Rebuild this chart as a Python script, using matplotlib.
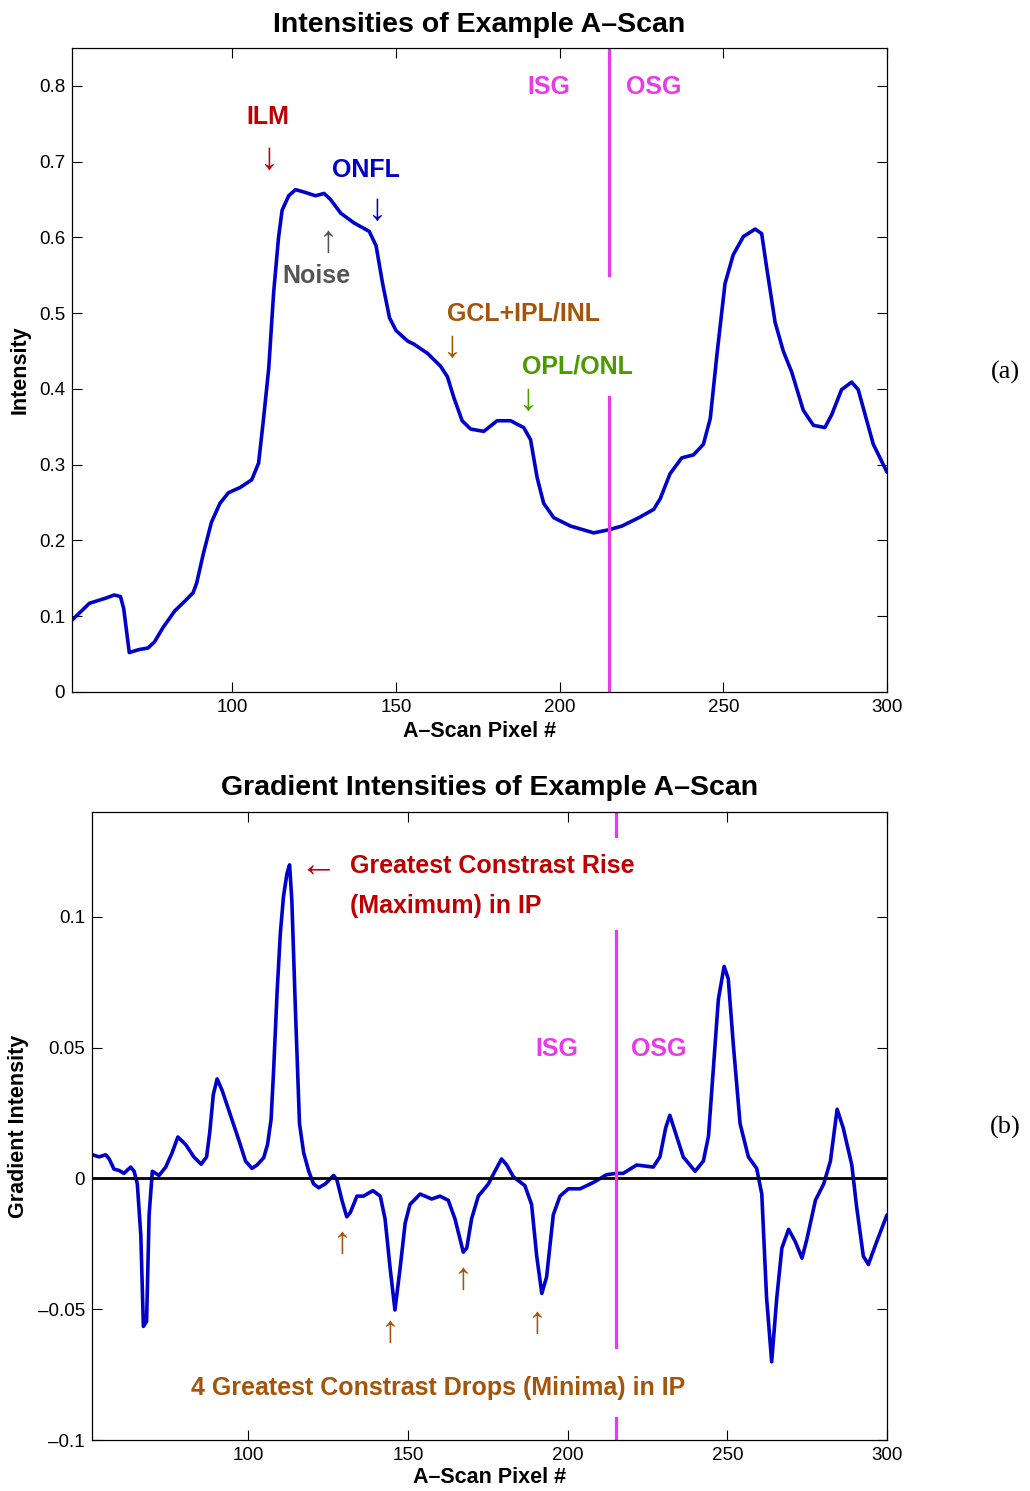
import matplotlib
matplotlib.use('agg')
import matplotlib.pyplot as plt
from matplotlib.ticker import FixedLocator, FuncFormatter

plt.rcParams['font.family'] = ['Liberation Sans', 'DejaVu Sans']

# intensity of the A-scan
pix_a = [50.6, 56.3, 61.4, 63.9, 65.8, 66.8, 68.5, 71.5, 74.2, 76.2, 78.8, 82.4, 85.5, 88.0,
         89.1, 91.1, 93.6, 96.2, 98.8, 102.4, 105.9, 108.0, 109.5, 111.1, 112.6, 114.1, 115.2,
         117.2, 119.3, 121.8, 125.4, 128.0, 130.0, 133.1, 137.2, 141.8, 143.9, 145.9, 148.0,
         150.0, 153.6, 155.5, 159.6, 163.6, 165.7, 167.7, 170.2, 172.8, 176.8, 180.9, 185.0,
         189.0, 191.1, 193.1, 195.1, 198.2, 203.3, 210.4, 214.9, 219.0, 224.6, 228.7, 230.7,
         233.7, 237.3, 240.9, 243.9, 246.0, 248.0, 250.5, 253.0, 256.1, 259.7, 261.7, 263.2,
         265.8, 268.3, 270.9, 274.4, 277.5, 281.0, 283.1, 286.1, 289.2, 291.2, 295.8, 300.0]
intensity = [0.093, 0.117, 0.124, 0.128, 0.126, 0.110, 0.052, 0.056, 0.058, 0.066, 0.085, 0.107,
             0.120, 0.131, 0.144, 0.182, 0.224, 0.249, 0.263, 0.270, 0.280, 0.302, 0.360, 0.427,
             0.527, 0.600, 0.636, 0.655, 0.663, 0.660, 0.655, 0.658, 0.650, 0.632, 0.619, 0.608,
             0.589, 0.539, 0.494, 0.477, 0.463, 0.459, 0.447, 0.430, 0.416, 0.388, 0.358, 0.347,
             0.344, 0.358, 0.358, 0.349, 0.333, 0.283, 0.249, 0.230, 0.219, 0.210, 0.214, 0.219,
             0.231, 0.241, 0.255, 0.288, 0.309, 0.313, 0.327, 0.361, 0.444, 0.539, 0.577, 0.601,
             0.611, 0.605, 0.561, 0.488, 0.450, 0.422, 0.372, 0.352, 0.349, 0.366, 0.399, 0.409,
             0.399, 0.327, 0.290]

# gradient of the intensity
pix_b = [51.2, 53.2, 55.3, 56.4, 57.9, 59.5, 61.0, 63.1, 64.2, 65.2, 66.3, 67.1, 68.1, 68.9,
         69.9, 72.0, 74.1, 76.1, 77.9, 80.3, 82.9, 85.2, 86.9, 87.9, 89.0, 90.2, 91.8, 94.4,
         97.0, 99.1, 101.1, 102.7, 104.8, 106.0, 107.1, 107.9, 109.0, 110.0, 111.0, 112.1,
         112.9, 113.6, 114.7, 116.0, 117.3, 118.9, 120.4, 122.0, 124.1, 126.7, 127.7, 129.3,
         130.8, 131.9, 134.0, 136.0, 139.0, 141.3, 142.8, 144.4, 145.9, 147.5, 149.1, 150.6,
         153.8, 157.4, 160.0, 162.6, 164.7, 167.3, 168.4, 169.9, 172.0, 175.2, 177.2, 179.3,
         180.9, 183.0, 186.6, 188.7, 190.3, 191.9, 193.4, 195.5, 197.6, 200.2, 203.9, 208.0,
         212.2, 215.3, 217.4, 221.6, 226.8, 228.9, 230.7, 232.0, 234.1, 236.2, 239.9, 242.5,
         244.1, 245.6, 247.2, 249.0, 250.3, 251.9, 254.0, 256.6, 259.2, 260.8, 262.3, 263.9,
         265.5, 267.1, 269.2, 271.3, 273.4, 274.9, 277.6, 280.2, 282.3, 284.4, 286.3, 289.0,
         290.5, 292.6, 294.2, 296.8, 300.0]
gradient = [0.0090, 0.0082, 0.0090, 0.0074, 0.0035, 0.0030, 0.0019, 0.0043, 0.0027, -0.0021,
            -0.0218, -0.0566, -0.0547, -0.0139, 0.0027, 0.0011, 0.0043, 0.0098, 0.0158, 0.0130,
            0.0082, 0.0054, 0.0082, 0.0177, 0.0320, 0.0380, 0.0335, 0.0240, 0.0146, 0.0066,
            0.0038, 0.0051, 0.0079, 0.0130, 0.0225, 0.0415, 0.0715, 0.0937, 0.1079, 0.1166,
            0.1198, 0.1063, 0.0652, 0.0209, 0.0098, 0.0027, -0.0021, -0.0036, -0.0021, 0.0011,
            -0.0005, -0.0084, -0.0147, -0.0131, -0.0068, -0.0068, -0.0047, -0.0068, -0.0155,
            -0.0345, -0.0503, -0.0345, -0.0171, -0.0100, -0.0060, -0.0079, -0.0068, -0.0084,
            -0.0155, -0.0282, -0.0266, -0.0155, -0.0068, -0.0021, 0.0027, 0.0074, 0.0051, 0.0006,
            -0.0028, -0.0100, -0.0297, -0.0440, -0.0377, -0.0139, -0.0068, -0.0040, -0.0040,
            -0.0016, 0.0014, 0.0019, 0.0019, 0.0051, 0.0043, 0.0082, 0.0193, 0.0241, 0.0161,
            0.0082, 0.0027, 0.0066, 0.0161, 0.0415, 0.0684, 0.0810, 0.0763, 0.0509, 0.0209,
            0.0082, 0.0038, -0.0060, -0.0456, -0.0701, -0.0456, -0.0266, -0.0195, -0.0242,
            -0.0305, -0.0234, -0.0084, -0.0021, 0.0066, 0.0264, 0.0193, 0.0051, -0.0108, -0.0297,
            -0.0329, -0.0242, -0.0140]

isg_osg = 215
xticks = [100, 150, 200, 250, 300]
yticks_a = [0, 0.1, 0.2, 0.3, 0.4, 0.5, 0.6, 0.7, 0.8]
yticks_b = [-0.1, -0.05, 0, 0.05, 0.1]

blue = '#0000CC'
magenta = '#E83AE8'
red = '#C00000'
brown = '#A5540A'
green = '#4C9A00'
grey = '#555555'


def fmt(v, pos):
    return ('%g' % v).replace('-', '\u2013')


def style(ax):
    ax.tick_params(axis='both', which='major', direction='in', top=True, right=True,
                   length=7, width=0.8, labelsize=13.5, pad=5)
    ax.xaxis.set_major_locator(FixedLocator(xticks))
    ax.yaxis.set_major_formatter(FuncFormatter(fmt))
    for s in ax.spines.values():
        s.set_linewidth(0.9)


fig = plt.figure(figsize=(10.30, 14.91), dpi=100)
line_kw = dict(color=blue, linewidth=2.6, solid_joinstyle='round', solid_capstyle='round')

# ---- (a) intensities
ax1 = fig.add_axes([0.0699, 0.5359, 0.7913, 0.4319])
ax1.plot(pix_a, intensity, **line_kw)
ax1.plot([isg_osg, isg_osg], [0.55, 0.85], color=magenta, linewidth=2.3)
ax1.plot([isg_osg, isg_osg], [0, 0.389], color=magenta, linewidth=2.3)
ax1.set_xlim(51, 300)
ax1.set_ylim(0, 0.85)
ax1.yaxis.set_major_locator(FixedLocator(yticks_a))
style(ax1)
ax1.set_title('Intensities of Example A\u2013Scan', fontsize=20.5, fontweight='bold', pad=11.5)
ax1.set_xlabel('A\u2013Scan Pixel #', fontsize=15.5, fontweight='bold', labelpad=4)
ax1.set_ylabel('Intensity', fontsize=15.5, fontweight='bold', labelpad=6)

bold = dict(fontsize=18, fontweight='bold', ha='center', va='center')
arr = dict(fontsize=27, ha='center', va='center')
ax1.text(110.7, 0.759, 'ILM', color=red, **bold)
ax1.text(111.3, 0.704, '\u2193', color=red, **arr)
ax1.text(140.7, 0.689, 'ONFL', color=blue, **bold)
ax1.text(144.3, 0.636, '\u2193', color=blue, **arr)
ax1.text(129.4, 0.594, '\u2191', color=grey, **arr)
ax1.text(125.7, 0.549, 'Noise', color=grey, **bold)
ax1.text(189.0, 0.499, 'GCL+IPL/INL', color=brown, **bold)
ax1.text(167.3, 0.456, '\u2193', color=brown, **arr)
ax1.text(205.5, 0.429, 'OPL/ONL', color=green, **bold)
ax1.text(190.5, 0.385, '\u2193', color=green, **arr)
ax1.text(196.6, 0.799, 'ISG', color=magenta, **bold)
ax1.text(228.7, 0.799, 'OSG', color=magenta, **bold)
fig.text(0.976, 0.750, '(a)', fontsize=19, family=['Liberation Serif'], ha='center', va='center')

# ---- (b) gradient
ax2 = fig.add_axes([0.0893, 0.0342, 0.7718, 0.4212])
ax2.plot(pix_b, gradient, **line_kw)
ax2.axhline(0, color='black', linewidth=2)
ax2.plot([isg_osg, isg_osg], [0.131, 0.14], color=magenta, linewidth=2.3)
ax2.plot([isg_osg, isg_osg], [-0.0646, 0.0945], color=magenta, linewidth=2.3)
ax2.plot([isg_osg, isg_osg], [-0.1, -0.0915], color=magenta, linewidth=2.3)
ax2.set_xlim(51, 300)
ax2.set_ylim(-0.1, 0.14)
ax2.yaxis.set_major_locator(FixedLocator(yticks_b))
style(ax2)
ax2.set_title('Gradient Intensities of Example A\u2013Scan', fontsize=20.5, fontweight='bold', pad=12)
ax2.set_xlabel('A\u2013Scan Pixel #', fontsize=15.5, fontweight='bold', labelpad=2)
ax2.set_ylabel('Gradient Intensity', fontsize=15.5, fontweight='bold', labelpad=6)

ax2.text(121.9, 0.1195, '\u2190', color=red, **arr)
ax2.text(131.9, 0.1195, 'Greatest Constrast Rise', color=red, fontsize=18, fontweight='bold',
         ha='left', va='center')
ax2.text(131.9, 0.104, '(Maximum) in IP', color=red, fontsize=18, fontweight='bold',
         ha='left', va='center')
ax2.text(196.7, 0.0496, 'ISG', color=magenta, **bold)
ax2.text(228.6, 0.0496, 'OSG', color=magenta, **bold)
for ax_, ay_ in [(129.4, -0.0248), (144.4, -0.0588), (167.3, -0.0385), (190.4, -0.0553)]:
    ax2.text(ax_, ay_, '\u2191', color=brown, **arr)
ax2.text(159.4, -0.080, '4 Greatest Constrast Drops (Minima) in IP', color=brown, **bold)
fig.text(0.976, 0.2435, '(b)', fontsize=19, family=['Liberation Serif'], ha='center', va='center')

fig.savefig('out.png', dpi=100)
